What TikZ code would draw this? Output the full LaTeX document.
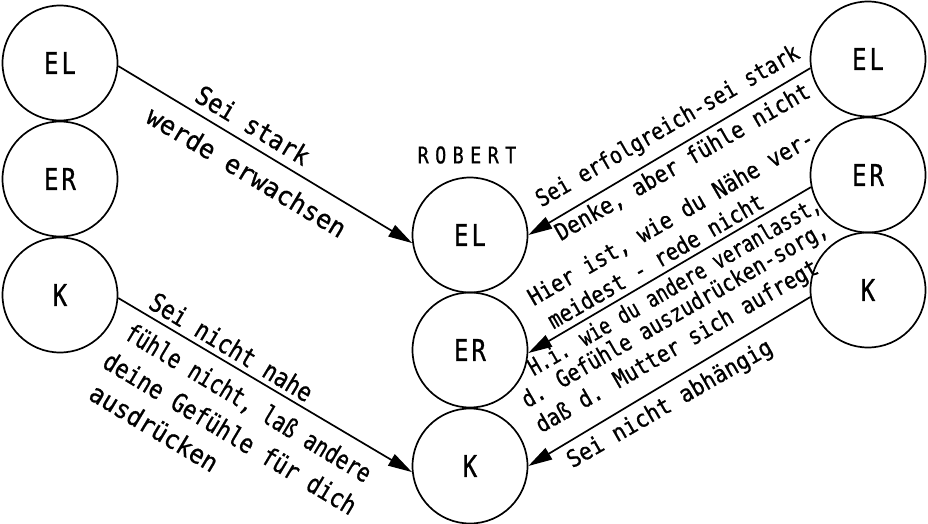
\documentclass[tikz,border=0pt]{standalone}
\usepackage{fontspec}
\setmainfont{DejaVu Sans Mono}
\newfontfamily\lblfont{DejaVu Sans Mono}[FakeBold=0.8]
\newfontfamily\circfont{DejaVu Sans Mono}[FakeStretch=0.8,FakeBold=0.8,LetterSpace=10]
\newfontfamily\robfont{DejaVu Sans Mono}[FakeStretch=0.8,FakeBold=0.8,LetterSpace=28]
\usetikzlibrary{arrows.meta}
\begin{document}
\begin{tikzpicture}[x=1pt,y=-1pt,
  circ/.style={circle,draw,line width=1.7pt,minimum size=115pt,inner sep=0pt,
    font=\circfont\fontsize{30}{32}\selectfont},
  conn/.style={line width=1.7pt,-{Triangle[length=24pt,width=13pt]}},
  lblL/.style={font={\lblfont\fontsize{26}{30}\selectfont\addfontfeature{FakeStretch=#1}},
    inner sep=0pt,anchor=west,rotate=-31},
  lblL/.default=0.85,
  lblR/.style={font={\lblfont\fontsize{23.5}{26}\selectfont\addfontfeature{FakeStretch=#1}},
    inner sep=0pt,anchor=west,rotate=30},
  lblR/.default=0.85,
  title/.style={font=\robfont\fontsize{23}{26}\selectfont,inner sep=0pt}
]
\path[use as bounding box] (0,0) rectangle (928,524);
% circles
\node[circ] (lEL) at (60,63) {EL};
\node[circ] (lER) at (60,179) {ER};
\node[circ] (lK)  at (60,295) {K};
\node[circ] (cEL) at (470,235) {EL};
\node[circ] (cER) at (470,350) {ER};
\node[circ] (cK)  at (470,466) {K};
\node[circ] (rEL) at (868,59) {EL};
\node[circ] (rER) at (868,175) {ER};
\node[circ] (rK)  at (868,290) {K};
\node[title] (rob) at (467,155) {ROBERT};
% connectors
\draw[conn] (lEL.-3) -- (cEL.188);
\draw[conn] (lK.-3) -- (cK.186);
\draw[conn] (rEL.189) -- (cEL.0);
\draw[conn] (rER.192) -- (cER.-3);
\draw[conn] (rK.187) -- (cK.0);
% left labels
\node[lblL=0.909] (t1a) at (198,92) {Sei stark};
\node[lblL=0.97]  (t1b) at (149,113) {werde erwachsen};
\node[lblL=0.845] (t2a) at (152,299) {Sei nicht nahe};
\node[lblL=0.783] (t2b) at (127,331) {fühle nicht, laß andere};
\node[lblL=0.842] (t2c) at (106,358) {deine Gefühle für dich};
\node[lblL=0.926] (t2d) at (92,390) {ausdrücken};
% right labels
\node[lblR=0.848] (t3a) at (538,202) {Sei erfolgreich-sei stark};
\node[lblR=0.891] (t3b) at (557,235) {Denke, aber fühle nicht};
\node[lblR=0.886] (t4a) at (530,300) {Hier ist, wie du Nähe ver-};
\node[lblR=0.866] (t4b) at (549,322) {meidest - rede nicht};
\node[lblR=0.777] (t4c) at (530,370) {H.i. wie du andere veranlasst,};
\node[lblR=0.841] (t4d) at (524,403) {d. Gefühle auszudrücken-sorg,};
\node[lblR=0.864] (t4e) at (538,428) {daß d. Mutter sich aufregt};
\node[lblR=0.915] (t5)  at (569,463) {Sei nicht abhängig};
\end{tikzpicture}
\end{document}
